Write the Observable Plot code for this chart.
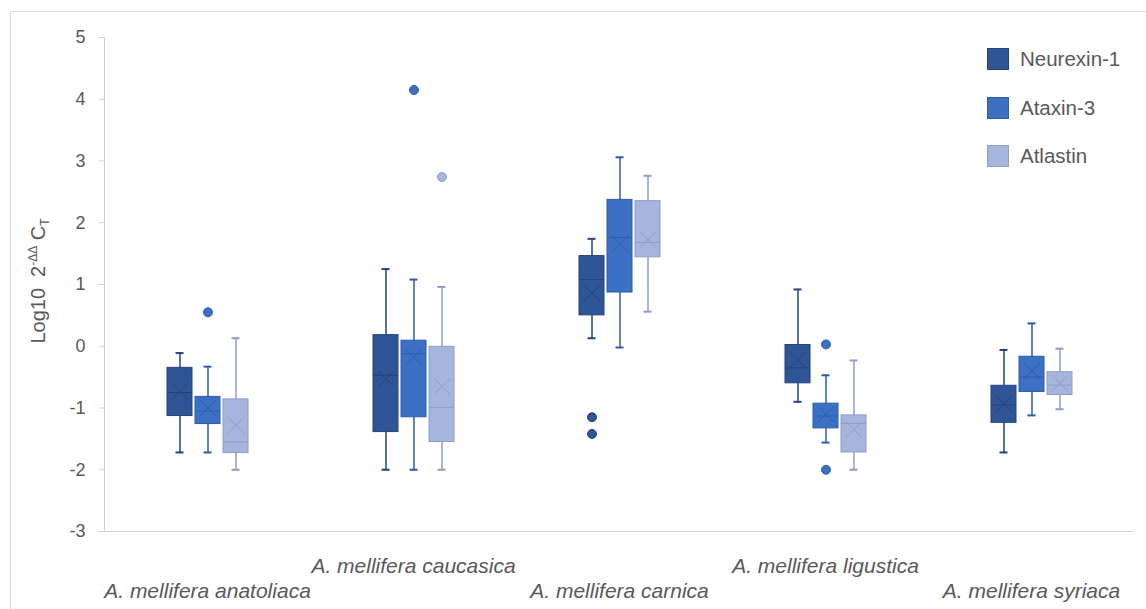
<!DOCTYPE html>
<html><head><meta charset="utf-8">
<script src="https://cdn.jsdelivr.net/npm/d3@7"></script>
<script src="https://cdn.jsdelivr.net/npm/@observablehq/plot@0.6"></script>
<style>
body{margin:0;background:#fff;font-family:"Liberation Sans",Arial,sans-serif;}
#wrap{position:relative;width:1146px;height:609px;overflow:hidden;}
#border{position:absolute;left:10px;top:11px;width:1200px;height:700px;border-left:1px solid #d9d9d9;border-top:1px solid #d9d9d9;}
#chart{position:absolute;left:0;top:0;}
#legend{position:absolute;left:987px;top:48px;}
.row{display:flex;align-items:center;height:22px;margin-bottom:26.5px;}
.sw{width:22px;height:22px;box-sizing:border-box;border:1px solid;margin-right:11px;}
.lab{font-size:20.5px;color:#595959;}
</style></head>
<body><div id="wrap"><div id="border"></div><div id="chart"></div><div id="legend"></div></div>
<script>
// ---- data ----
const species = ["A. mellifera anatoliaca","A. mellifera caucasica","A. mellifera carnica","A. mellifera ligustica","A. mellifera syriaca"];
const genes = ["Neurexin-1","Ataxin-3","Atlastin"];
const yTicks = [-3,-2,-1,0,1,2,3,4,5];
// rows = species, columns = genes
const whiskerLow  = [[-1.72,-1.72,-2.0],[-2.0,-2.0,-2.0],[0.13,-0.02,0.56],[-0.9,-1.56,-2.0],[-1.72,-1.12,-1.02]];
const quartile1   = [[-1.13,-1.26,-1.73],[-1.39,-1.15,-1.55],[0.5,0.87,1.44],[-0.6,-1.33,-1.72],[-1.24,-0.74,-0.79]];
const median      = [[-0.75,-1.05,-1.55],[-0.47,-0.12,-0.99],[1.08,1.76,1.68],[-0.35,-1.13,-1.25],[-0.95,-0.5,-0.63]];
const quartile3   = [[-0.35,-0.82,-0.86],[0.18,0.09,-0.01],[1.46,2.37,2.35],[0.02,-0.93,-1.12],[-0.64,-0.17,-0.42]];
const whiskerHigh = [[-0.11,-0.33,0.13],[1.25,1.08,0.96],[1.74,3.06,2.76],[0.92,-0.47,-0.23],[-0.06,0.37,-0.04]];
const mean        = [[-0.73,-1.0,-1.28],[-0.53,-0.18,-0.65],[0.86,1.66,1.73],[-0.22,-1.1,-1.35],[-0.93,-0.4,-0.6]];
const outlierSpecies = [0,1,1,2,2,3,3];
const outlierGene    = [1,1,2,0,0,1,1];
const outlierValue   = [0.55,4.15,2.74,-1.15,-1.42,0.03,-2.0];

// ---- styles ----
const fills   = {"Neurexin-1":"#2F5597","Ataxin-3":"#3B70C5","Atlastin":"#A6B5DC"};
const strokes = {"Neurexin-1":"#22427A","Ataxin-3":"#2D5DA8","Atlastin":"#8F9DC6"};
const axisGray = "#d0d0d0";

const stats = species.flatMap((s,i)=>genes.map((g,j)=>({species:s,gene:g,lo:whiskerLow[i][j],q1:quartile1[i][j],med:median[i][j],q3:quartile3[i][j],hi:whiskerHigh[i][j],mean:mean[i][j]})));
const outliers = outlierValue.map((v,k)=>({species:species[outlierSpecies[k]],gene:genes[outlierGene[k]],value:v}));

const marks = [
  Plot.axisY({ticks:yTicks, tickSize:5, tickPadding:14, fontSize:18, stroke:axisGray, fill:"#595959", tickFormat:d=>String(d), label:null}),
  Plot.frame({anchor:"left", stroke:axisGray, fx:()=>species[0]}),
  Plot.ruleY([-3],{stroke:axisGray})
];
for (const g of genes) {
  const d = stats.filter(r=>r.gene===g);
  const o = outliers.filter(r=>r.gene===g);
  marks.push(
    Plot.ruleX(d,{fx:"species",x:"gene",y1:"lo",y2:"hi",stroke:strokes[g],strokeWidth:1.5}),
    Plot.tickY(d,{fx:"species",x:"gene",y:"lo",stroke:strokes[g],strokeWidth:2,insetLeft:8.5,insetRight:8.5}),
    Plot.tickY(d,{fx:"species",x:"gene",y:"hi",stroke:strokes[g],strokeWidth:2,insetLeft:8.5,insetRight:8.5}),
    Plot.barY(d,{fx:"species",x:"gene",y1:"q1",y2:"q3",fill:fills[g],stroke:strokes[g],strokeWidth:1}),
    Plot.tickY(d,{fx:"species",x:"gene",y:"med",stroke:strokes[g],strokeWidth:1}),
    Plot.dot(d,{fx:"species",x:"gene",y:"mean",symbol:"times",r:7.5,stroke:strokes[g],strokeWidth:1}),
    Plot.dot(o,{fx:"species",x:"gene",y:"value",r:4.5,fill:fills[g],stroke:strokes[g],strokeWidth:1})
  );
}
marks.push(
  Plot.text(species.filter((s,i)=>i%2===0),{fx:d=>d,text:d=>d,frameAnchor:"bottom",lineAnchor:"middle",dy:59.5,fontSize:21,fontStyle:"italic",fill:"#595959"}),
  Plot.text(species.filter((s,i)=>i%2===1),{fx:d=>d,text:d=>d,frameAnchor:"bottom",lineAnchor:"middle",dy:35,fontSize:21,fontStyle:"italic",fill:"#595959"})
);

const plot = Plot.plot({
  width:1146, height:609,
  marginLeft:102, marginRight:11, marginTop:37, marginBottom:78,
  style:{fontFamily:'"Liberation Sans",Arial,sans-serif', background:"transparent", overflow:"visible"},
  fx:{domain:species, padding:0, axis:null},
  x:{domain:genes, paddingInner:0.12, paddingOuter:2.18, axis:null},
  y:{domain:[-3,5]},
  marks
});
document.getElementById("chart").appendChild(plot);

// y axis title with super/subscript
const t = d3.select(plot).append("text")
  .attr("transform","translate(45,281) rotate(-90)")
  .attr("text-anchor","middle").attr("fill","#595959").attr("font-size",20)
  .style("white-space","pre");
t.append("tspan").text("Log10  2");
t.append("tspan").attr("font-size",12).attr("dy",-8).text("-ΔΔ");
t.append("tspan").attr("dy",8).text(" C");
t.append("tspan").attr("font-size",12).attr("dy",4).text("T");

// legend
const leg = d3.select("#legend");
for (const g of genes) {
  const r = leg.append("div").attr("class","row");
  r.append("div").attr("class","sw").style("background",fills[g]).style("border-color",strokes[g]);
  r.append("div").attr("class","lab").text(g);
}
</script>
</body></html>
